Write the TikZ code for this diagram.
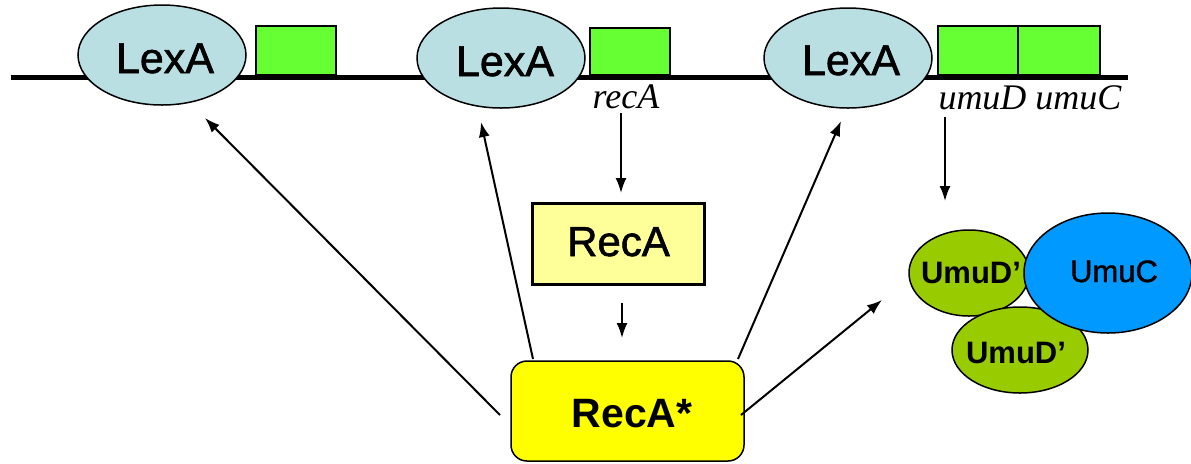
\documentclass[tikz,border=0pt]{standalone}
\usepackage{fontspec}
\setmainfont{Liberation Sans}
\newfontfamily\heavyfont[FakeBold=1.4]{Liberation Sans}
\newfontfamily\timesfont{Liberation Serif}
\usetikzlibrary{arrows.meta,shapes.geometric}
\definecolor{lexablue}{HTML}{B9DFE3}
\definecolor{genegreen}{HTML}{66FF33}
\definecolor{umudgreen}{HTML}{99CC00}
\definecolor{umucblue}{HTML}{0099FF}
\definecolor{recalight}{HTML}{FFFF99}
\definecolor{recastar}{HTML}{FFFF00}
\tikzset{
  lexashape/.style={draw=black, line width=0.75pt, fill=lexablue},
  genebox/.style={draw=black, line width=1pt, fill=genegreen},
  lexatext/.style={font=\heavyfont\fontsize{21.5}{24}\selectfont, anchor=base, inner sep=0pt},
  genetext/.style={font=\timesfont\itshape\fontsize{18}{20}\selectfont, anchor=base, inner sep=0pt},
  arr/.style={line width=1pt, -{Latex[length=7.5pt,width=5.5pt]}},
  blob/.style={draw=black, line width=0.75pt},
}
\begin{document}
\begin{tikzpicture}[x=0.5pt,y=-0.5pt]
\useasboundingbox (0,0) rectangle (1191,463);
% DNA line
\coordinate (dnaL) at (11,77);
\coordinate (dnaR) at (1128,77);
\draw[line width=2.5pt] (dnaL) -- (dnaR);
% gene boxes
\draw[genebox] (256,26) rectangle (336,75);
\draw[genebox] (590,28) rectangle (670,75);
\draw[genebox] (938,26) rectangle (1018,75);
\draw[genebox] (1018,26) rectangle (1100,75);
% LexA ellipses
\draw[lexashape] (162,55) ellipse [x radius=84, y radius=50];
\draw[lexashape] (501,58) ellipse [x radius=84, y radius=50];
\draw[lexashape] (848,58) ellipse [x radius=84, y radius=50];
\node[lexatext] (lexa1) at (165,73) {LexA};
\node[lexatext] (lexa2) at (505,76) {LexA};
\node[lexatext] (lexa3) at (851,75) {LexA};
% gene names
\node[genetext] (recAgene) at (626,108) {recA};
\node[genetext] (umuDC) at (1030,109) {umuD umuC};
% RecA box
\node[draw=black, line width=1.5pt, fill=recalight, minimum width=172pt*0.5, minimum height=81pt*0.5, inner sep=0pt] (reca) at (618,243.5) {};
\node[font=\heavyfont\fontsize{21}{24}\selectfont, anchor=base, inner sep=0pt] (recatext) at (618.5,256) {RecA};
% RecA* box
\node[draw=black, line width=0.75pt, fill=recastar, rounded corners=8pt, minimum width=233pt*0.5, minimum height=100pt*0.5, inner sep=0pt] (recas) at (627.5,411) {};
\node[font=\bfseries\fontsize{20.5}{24}\selectfont, anchor=base, inner sep=0pt] (recastext) at (632,427) {RecA*};
% Umu complex
\draw[blob, fill=umudgreen] (969,273) ellipse [x radius=60, y radius=43];
\draw[blob, fill=umudgreen] (1020,350) ellipse [x radius=68, y radius=43];
\draw[blob, fill=umucblue] (1108,273) ellipse [x radius=84, y radius=60];
\node[font=\bfseries\fontsize{15.5}{18}\selectfont, anchor=base, inner sep=0pt] (umud1) at (971,283) {UmuD’};
\node[font=\heavyfont\fontsize{15.5}{18}\selectfont, anchor=base, inner sep=0pt] (umuc) at (1114,282) {UmuC};
\node[font=\bfseries\fontsize{15.5}{18}\selectfont, anchor=base, inner sep=0pt] (umud2) at (1016,363) {UmuD’};
% arrow endpoints
\coordinate (a1s) at (500,415);
\coordinate (a1e) at (205,118);
\coordinate (a2s) at (533,359);
\coordinate (a2e) at (481,122);
\coordinate (a3s) at (738,359);
\coordinate (a3e) at (841,121);
\coordinate (a4s) at (741,415);
\coordinate (a4e) at (882,300);
\coordinate (r1s) at (621,113);
\coordinate (r1e) at (621,193);
\coordinate (r2s) at (622,303);
\coordinate (r2e) at (622,338);
\coordinate (u1s) at (945,117);
\coordinate (u1e) at (945,201);
\draw[arr] (a1s) -- (a1e);
\draw[arr] (a2s) -- (a2e);
\draw[arr] (a3s) -- (a3e);
\draw[arr] (a4s) -- (a4e);
\draw[arr] (r1s) -- (r1e);
\draw[arr] (r2s) -- (r2e);
\draw[arr] (u1s) -- (u1e);
\end{tikzpicture}
\end{document}
